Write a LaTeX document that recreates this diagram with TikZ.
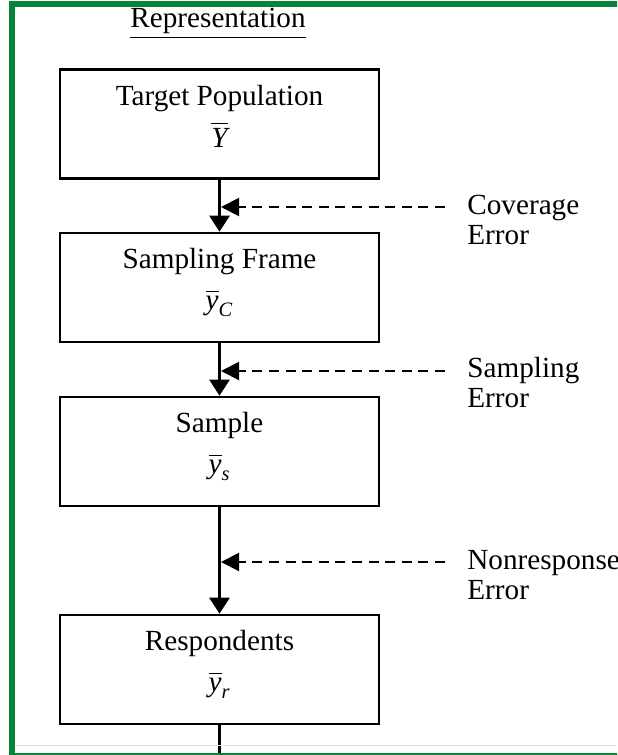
\documentclass[tikz,border=0pt]{standalone}
\usepackage{amsmath}
\usepackage{fontspec}
\setmainfont{Liberation Serif}
\usetikzlibrary{arrows.meta}
\definecolor{framegreen}{RGB}{8,132,58}
\begin{document}
\begin{tikzpicture}[x=0.5pt,y=-0.5pt,
  box/.style={draw, line width=1.3pt, minimum width=159.5pt, minimum height=54.5pt, inner sep=0pt},
  lbl/.style={font=\fontsize{14.6pt}{15pt}\selectfont, inner sep=0pt, anchor=base},
  errlbl/.style={font=\fontsize{14.6pt}{15pt}\selectfont, inner sep=0pt, anchor=west, align=left},
  flow/.style={line width=1.3pt, -{Triangle[width=10pt,length=8pt]}},
  errline/.style={line width=1pt, dash pattern=on 5pt off 3.3pt, -{Triangle[width=9pt,length=9pt]}},
]
\useasboundingbox (0,0) rectangle (617,755);
\clip (0,0) rectangle (617,755);

% title
\node[lbl] (rep) at (218,27) {\underline{Representation}};

% boxes
\node[box] (b1) at (219.5,124) {};
\node[box] (b2) at (219.5,287.5) {};
\node[box] (b3) at (219.5,451.5) {};
\node[box] (b4) at (219.5,669.5) {};

% box texts
\node[lbl] (t1) at (219.5,105) {Target Population};
\node[lbl] (s1) at (219.5,147) {$\overline{\textit{Y}}$};
\node[lbl] (t2) at (219.5,268) {Sampling Frame};
\node[lbl] (s2) at (219.5,309) {$\overline{\textit{y}}_{\textit{C}}$};
\node[lbl] (t3) at (219.5,432) {Sample};
\node[lbl] (s3) at (219.5,473) {$\overline{\textit{y}}_{\textit{s}}$};
\node[lbl] (t4) at (219.5,650) {Respondents};
\node[lbl] (s4) at (219.5,691) {$\overline{\textit{y}}_{\textit{r}}$};

% flow arrows
\draw[flow] (b1.south) -- (b2.north);
\draw[flow] (b2.south) -- (b3.north);
\draw[flow] (b3.south) -- (b4.north);
\coordinate (bot) at (219.5,770);
\draw[line width=1.3pt] (b4.south) -- (bot);

% error labels
\node[errlbl] (e1) at (467,220) {Coverage\\[0pt]Error};
\node[errlbl] (e2) at (467,383) {Sampling\\[0pt]Error};
\node[errlbl] (e3) at (467,575) {Nonresponse\\[0pt]Error};

% dashed error arrows
\coordinate (d1s) at (445,207); \coordinate (d1e) at (221,207);
\coordinate (d2s) at (445,371); \coordinate (d2e) at (221,371);
\coordinate (d3s) at (445,562); \coordinate (d3e) at (221,562);
\draw[errline] (d1s) -- (d1e);
\draw[errline] (d2s) -- (d2e);
\draw[errline] (d3s) -- (d3e);

% faint line near bottom
\draw[black!12, line width=0.5pt] (14,745) -- (617,745);

% green frame
\draw[framegreen, line width=3pt] (625,4) -- (11.5,4) -- (11.5,756) -- (625,756);
\end{tikzpicture}
\end{document}
